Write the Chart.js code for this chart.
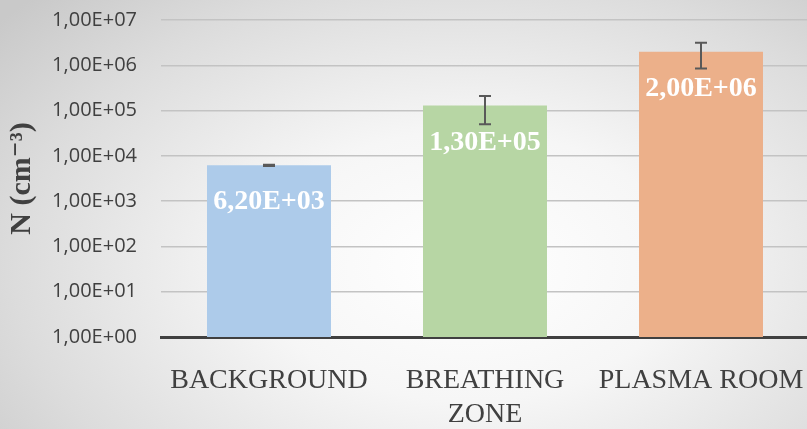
<!DOCTYPE html>
<html>
<head>
<meta charset="utf-8">
<script src="https://cdn.jsdelivr.net/npm/chart.js@4/dist/chart.umd.min.js"></script>
<style>
    html, body { margin: 0; padding: 0; overflow: hidden; }
    body {
        width: 807px; height: 429px;
        background: radial-gradient(ellipse 75% 90% at 58% 62%, #ffffff 0%, #f6f6f6 35%, #dcdcdc 75%, #c9c9c9 100%);
    }
    #wrap { width: 810px; height: 429px; }
</style>
</head>
<body>
<div id="wrap"><canvas id="chart-1"></canvas></div>
<script>
var categories = [["BACKGROUND"], ["BREATHING", "ZONE"], ["PLASMA ROOM"]];
var values = [6200, 130000, 2000000];
var err_low = [6000, 50000, 850000];
var err_high = [6400, 210000, 3150000];
var tick_values = [1, 10, 100, 1000, 10000, 100000, 1000000, 10000000];
var bar_colors = ["#adcbea", "#b7d6a4", "#ecb08a"];

function fmt_exp(v) {
    var parts = v.toExponential(2).split("e");
    var mant = parts[0].replace(".", ",");
    var ex = parseInt(parts[1], 10);
    var sign = ex < 0 ? "-" : "+";
    var digits = String(Math.abs(ex));
    if (digits.length < 2) digits = "0" + digits;
    return mant + "E" + sign + digits;
}

// error bars, drawn through the y scale
var errorBars = {
    id: "errorBars",
    afterDatasetsDraw: function(chart) {
        var ctx = chart.ctx;
        var y = chart.scales.y;
        var meta = chart.getDatasetMeta(0);
        ctx.save();
        ctx.strokeStyle = "#595959";
        ctx.lineWidth = 2;
        for (let i = 0; i < meta.data.length; i++) {
            var x = meta.data[i].x;
            var yl = y.getPixelForValue(err_low[i]);
            var yh = y.getPixelForValue(err_high[i]);
            ctx.beginPath();
            ctx.moveTo(x, yl); ctx.lineTo(x, yh);
            ctx.moveTo(x - 6, yl); ctx.lineTo(x + 6, yl);
            ctx.moveTo(x - 6, yh); ctx.lineTo(x + 6, yh);
            ctx.stroke();
        }
        ctx.restore();
    }
};

// value labels inside the top of each bar
var valueLabels = {
    id: "valueLabels",
    afterDatasetsDraw: function(chart) {
        var ctx = chart.ctx;
        var meta = chart.getDatasetMeta(0);
        ctx.save();
        ctx.fillStyle = "#ffffff";
        ctx.font = "bold 28px 'Liberation Serif', 'DejaVu Serif', serif";
        ctx.textAlign = "center";
        ctx.textBaseline = "middle";
        for (let i = 0; i < meta.data.length; i++) {
            var bar = meta.data[i];
            ctx.fillText(fmt_exp(values[i]), bar.x, bar.y + 37);
        }
        ctx.restore();
    }
};

const ctx = document.getElementById("chart-1").getContext("2d");
const myChart = new Chart(ctx, {
    type: "bar",
    data: {
        labels: categories,
        datasets: [{
            data: values,
            backgroundColor: bar_colors,
            borderWidth: 0,
            barPercentage: 0.574,
            categoryPercentage: 1.0,
        }],
    },
    plugins: [errorBars, valueLabels],
    options: {
        responsive: true,
        maintainAspectRatio: false,
        animation: false,
        layout: { padding: { top: 20, left: 0, right: 1, bottom: 0 } },
        plugins: {
            legend: { display: false },
            tooltip: { enabled: false },
        },
        scales: {
            x: {
                grid: { display: false, drawTicks: false },
                border: { display: true, color: "#404040", width: 3 },
                ticks: {
                    color: "#404040",
                    padding: 27,
                    maxRotation: 0,
                    autoSkip: false,
                    font: { family: "'Liberation Serif', 'DejaVu Serif', serif", size: 28, lineHeight: 1.2 },
                },
                afterFit: function(scale) {
                    scale.height = 92;
                    scale.paddingLeft = 0;
                    scale.paddingRight = 0;
                },
            },
            y: {
                type: "logarithmic",
                min: 1,
                max: 10000000,
                grid: { color: "#c3c3c3", lineWidth: 1.5, drawTicks: false },
                border: { display: false },
                ticks: {
                    color: "#404040",
                    padding: 24,
                    font: { family: "'Open Sans', sans-serif", size: 20 },
                    callback: function(v) { return fmt_exp(v); },
                },
                afterBuildTicks: function(scale) {
                    scale.ticks = tick_values.map(function(v) { return { value: v }; });
                },
                afterFit: function(scale) {
                    scale.width = 161;
                    scale.paddingTop = 0;
                    scale.paddingBottom = 0;
                },
                title: {
                    display: true,
                    text: "N (cm\u207B\u00B3)",
                    color: "#404040",
                    padding: { top: 4, bottom: 0 },
                    font: { family: "'Liberation Serif', 'DejaVu Serif', serif", size: 30, weight: "bold", lineHeight: 1.2 },
                },
            },
        },
    },
});
</script>
</body>
</html>
